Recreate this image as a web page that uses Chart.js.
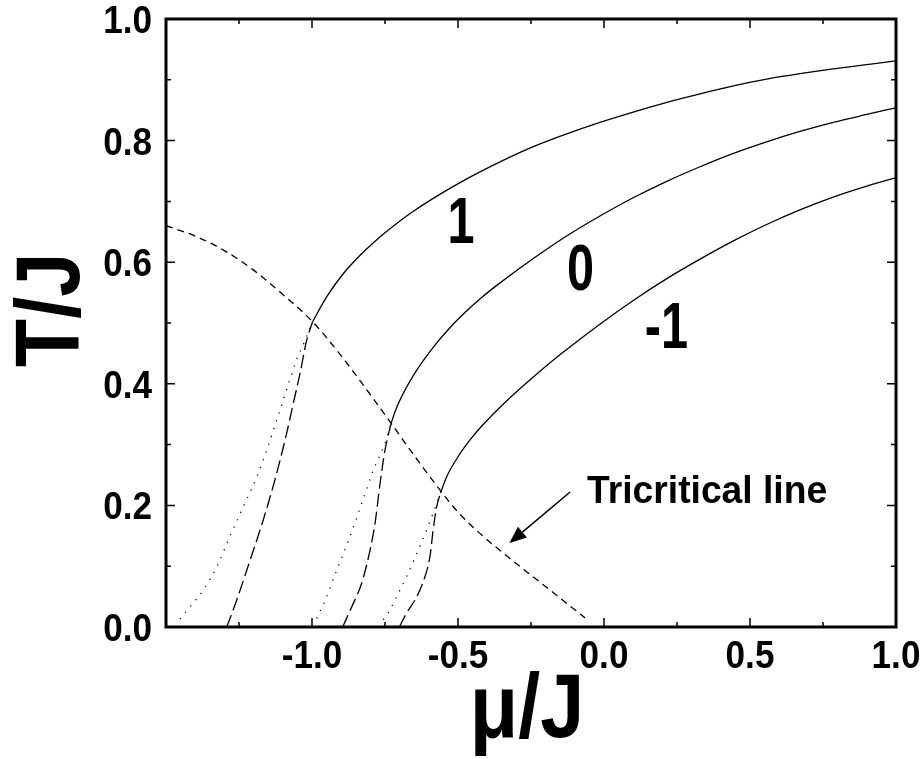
<!DOCTYPE html>
<html><head><meta charset="utf-8">
<script src="https://cdn.jsdelivr.net/npm/chart.js@4/dist/chart.umd.min.js"></script>
<style>html,body{margin:0;padding:0;background:#fff;}canvas{display:block;}</style>
</head><body>
<canvas id="c" width="924" height="759"></canvas>
<script>
// ---- data (mu/J, T/J) ----
const muC1 = [-0.998, -0.95, -0.893, -0.836, -0.778, -0.722, -0.664, -0.585, -0.47, -0.356, -0.242, -0.128, -0.014, 0.1, 0.215, 0.329, 0.443, 0.557, 0.671, 0.785, 0.9, 1.0];
const tC1  = [0.502, 0.543, 0.581, 0.611, 0.637, 0.659, 0.680, 0.705, 0.737, 0.765, 0.790, 0.811, 0.830, 0.847, 0.863, 0.877, 0.890, 0.901, 0.910, 0.918, 0.925, 0.931];
const muC0 = [-0.729, -0.715, -0.693, -0.65, -0.585, -0.53, -0.47, -0.419, -0.356, -0.242, -0.128, -0.014, 0.1, 0.215, 0.329, 0.443, 0.557, 0.671, 0.785, 0.9, 1.0];
const tC0  = [0.335, 0.355, 0.379, 0.416, 0.460, 0.491, 0.520, 0.542, 0.566, 0.606, 0.643, 0.676, 0.706, 0.733, 0.757, 0.779, 0.798, 0.815, 0.830, 0.843, 0.854];
const muCm1 = [-0.558, -0.54, -0.5, -0.45, -0.4, -0.322, -0.25, -0.15, -0.014, 0.1, 0.215, 0.329, 0.443, 0.557, 0.671, 0.785, 0.9, 1.0];
const tCm1  = [0.223, 0.246, 0.280, 0.313, 0.340, 0.377, 0.408, 0.448, 0.498, 0.537, 0.573, 0.605, 0.635, 0.662, 0.686, 0.707, 0.725, 0.739];
const muTri = [-1.5, -1.4, -1.3, -1.2, -1.1, -0.998, -0.9, -0.8, -0.729, -0.65, -0.558, -0.5, -0.425, -0.31, -0.196, -0.065];
const tTri  = [0.660, 0.643, 0.619, 0.587, 0.547, 0.502, 0.446, 0.382, 0.335, 0.282, 0.223, 0.189, 0.154, 0.108, 0.065, 0.015];
const muDot1 = [-1.452, -1.418, -1.372, -1.326, -1.281, -1.235, -1.189, -1.155, -1.121, -1.087, -1.053, -1.025, -0.998];
const tDot1  = [0.013, 0.033, 0.061, 0.099, 0.149, 0.198, 0.247, 0.291, 0.340, 0.390, 0.439, 0.470, 0.502];
const muDash1 = [-1.292, -1.258, -1.212, -1.167, -1.127, -1.092, -1.064, -1.041, -1.018, -0.998];
const tDash1  = [0.0, 0.044, 0.110, 0.176, 0.242, 0.308, 0.368, 0.417, 0.472, 0.502];
const muDot0 = [-0.984, -0.955, -0.915, -0.870, -0.830, -0.790, -0.750, -0.729];
const tDot0  = [0.014, 0.044, 0.094, 0.149, 0.203, 0.258, 0.302, 0.335];
const muDash0 = [-0.895, -0.864, -0.830, -0.801, -0.784, -0.767, -0.750, -0.729];
const tDash0  = [0.0, 0.033, 0.072, 0.127, 0.171, 0.236, 0.291, 0.335];
const muDotM1 = [-0.756, -0.739, -0.710, -0.676, -0.641, -0.607, -0.579, -0.558];
const tDotM1  = [0.012, 0.023, 0.050, 0.083, 0.121, 0.160, 0.195, 0.223];
const muDashM1 = [-0.701, -0.676, -0.641, -0.613, -0.596, -0.585, -0.573, -0.558];
const tDashM1  = [0.0, 0.023, 0.050, 0.083, 0.116, 0.160, 0.198, 0.223];

// ticks
const xMajor = [-1.5, -1.0, -0.5, 0.0, 0.5, 1.0];
const xLabels = ['', '-1.0', '-0.5', '0.0', '0.5', '1.0'];
const xMinor = [-1.25, -0.75, -0.25, 0.25, 0.75];
const yMajor = [0.0, 0.2, 0.4, 0.6, 0.8, 1.0];
const yLabels = ['0.0', '0.2', '0.4', '0.6', '0.8', '1.0'];
const yMinor = [0.1, 0.3, 0.5, 0.7, 0.9];

// annotations (data coordinates, text baselines)
const curveLabels = ['1', '0', '-1'];
const curveLabelMu = [-0.49, -0.08, 0.214];
const curveLabelT = [0.632, 0.554, 0.459];
const triText = 'Tricritical line';
const triTextPos = [-0.058, 0.204];
const arrowTail = [-0.116, 0.222];
const arrowHead = [-0.324, 0.138];
const xTitle = '\u03bc/J';
const yTitle = 'T/J';

const pts = (xs, ys) => xs.map((x, i) => ({x: x, y: ys[i]}));
const ds = (xs, ys, dash, w) => ({
  data: pts(xs, ys), showLine: true, pointRadius: 0, borderColor: '#000',
  borderWidth: w || 1.3, borderDash: dash || [], cubicInterpolationMode: 'monotone', fill: false
});

const DOT = [1.2, 7];
const LONG = [13, 5];
const SHORT = [7, 5];
const FAM = '"Liberation Sans", Arial, Helvetica, sans-serif';

function txt(ctx, s, x, y, size, sx, align, rot) {
  ctx.save();
  ctx.translate(x, y);
  if (rot) ctx.rotate(rot);
  ctx.scale(sx, 1);
  ctx.font = 'bold ' + size + 'px ' + FAM;
  ctx.textAlign = align; ctx.textBaseline = 'alphabetic';
  ctx.fillText(s, 0, 0);
  ctx.restore();
}

const overlay = {
  id: 'overlay',
  afterDraw(chart) {
    const ctx = chart.ctx, a = chart.chartArea;
    const xs = chart.scales.x, ys = chart.scales.y;
    ctx.save();
    ctx.strokeStyle = '#000'; ctx.fillStyle = '#000';
    // ticks (inward, all four sides)
    ctx.lineWidth = 1.5;
    const tk = (vals, len, isX) => {
      vals.forEach(v => {
        ctx.beginPath();
        if (isX) {
          const p = xs.getPixelForValue(v);
          ctx.moveTo(p, a.bottom); ctx.lineTo(p, a.bottom - len);
          ctx.moveTo(p, a.top); ctx.lineTo(p, a.top + len);
        } else {
          const p = ys.getPixelForValue(v);
          ctx.moveTo(a.left, p); ctx.lineTo(a.left + len, p);
          ctx.moveTo(a.right, p); ctx.lineTo(a.right - len, p);
        }
        ctx.stroke();
      });
    };
    tk(xMajor, 9, true); tk(xMinor, 5, true);
    tk(yMajor, 9, false); tk(yMinor, 5, false);
    // frame
    ctx.lineWidth = 3;
    ctx.strokeRect(a.left, a.top, a.right - a.left, a.bottom - a.top);
    // tick labels
    xMajor.forEach((v, i) => txt(ctx, xLabels[i], xs.getPixelForValue(v), a.bottom + 41, 39, 0.9, 'center'));
    yMajor.forEach((v, i) => txt(ctx, yLabels[i], a.left - 14, ys.getPixelForValue(v) + 14, 39, 0.9, 'right'));
    // curve labels
    curveLabels.forEach((s, i) => txt(ctx, s, xs.getPixelForValue(curveLabelMu[i]), ys.getPixelForValue(curveLabelT[i]), 64, 0.76, 'center'));
    // tricritical text
    txt(ctx, triText, xs.getPixelForValue(triTextPos[0]), ys.getPixelForValue(triTextPos[1]), 38, 0.98, 'left');
    // arrow
    const tx = xs.getPixelForValue(arrowTail[0]), ty = ys.getPixelForValue(arrowTail[1]);
    const hx = xs.getPixelForValue(arrowHead[0]), hy = ys.getPixelForValue(arrowHead[1]);
    const ang = Math.atan2(hy - ty, hx - tx);
    const L = 17, W = 7;
    const bx = hx - L * Math.cos(ang), by = hy - L * Math.sin(ang);
    ctx.lineWidth = 1.5;
    ctx.beginPath(); ctx.moveTo(tx, ty); ctx.lineTo(bx, by); ctx.stroke();
    ctx.beginPath();
    ctx.moveTo(hx, hy);
    ctx.lineTo(bx + W * Math.sin(ang), by - W * Math.cos(ang));
    ctx.lineTo(bx - W * Math.sin(ang), by + W * Math.cos(ang));
    ctx.closePath(); ctx.fill();
    // axis titles
    txt(ctx, yTitle, 79, (a.top + a.bottom) / 2 - 13, 91, 0.87, 'center', -Math.PI / 2);
    txt(ctx, xTitle, (a.left + a.right) / 2 - 4, 737, 91, 0.87, 'center');
    ctx.restore();
  }
};

new Chart(document.getElementById('c'), {
  type: 'scatter',
  data: {
    datasets: [
      ds(muC1, tC1), ds(muC0, tC0), ds(muCm1, tCm1),
      ds(muTri, tTri, SHORT),
      ds(muDot1, tDot1, DOT), ds(muDash1, tDash1, LONG),
      ds(muDot0, tDot0, DOT), ds(muDash0, tDash0, LONG),
      ds(muDotM1, tDotM1, DOT), ds(muDashM1, tDashM1, LONG)
    ]
  },
  options: {
    responsive: false, animation: false, devicePixelRatio: 1,
    layout: {padding: {top: 19, right: 28, left: 0, bottom: 0}},
    plugins: {legend: {display: false}, tooltip: {enabled: false}},
    scales: {
      x: {
        type: 'linear', min: -1.5, max: 1.0,
        grid: {display: false, drawTicks: false}, border: {display: false},
        ticks: {display: false, stepSize: 0.5},
        afterFit: s => { s.height = 132; }
      },
      y: {
        type: 'linear', min: 0, max: 1.0,
        grid: {display: false, drawTicks: false}, border: {display: false},
        ticks: {display: false, stepSize: 0.2},
        afterFit: s => { s.width = 166; }
      }
    }
  },
  plugins: [overlay]
});
</script>
</body></html>
